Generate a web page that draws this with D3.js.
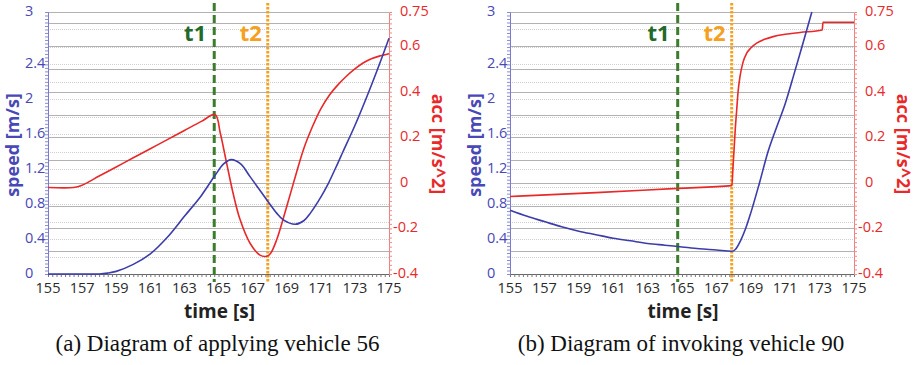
<!DOCTYPE html>
<html>
<head>
<meta charset="utf-8">
<script src="https://cdn.jsdelivr.net/npm/d3@7"></script>
<style>
  body { margin: 0; background: #fff; }
  svg { display: block; font-family: "Open Sans", "Noto Sans", sans-serif; }
</style>
</head>
<body>
<svg id="chart" width="915" height="365"></svg>
<script>
// ---- data ----
var timeTicks = [155, 157, 159, 161, 163, 165, 167, 169, 171, 173, 175];
var speedTicks = [0, 0.4, 0.8, 1.2, 1.6, 2, 2.4, 3];
var accTicks = [-0.4, -0.2, 0, 0.2, 0.4, 0.6, 0.75];

// (a) applying vehicle 56
var timeA = [155, 156, 157, 158, 158.5, 159, 160, 161, 162, 163, 164, 164.8, 165.3, 165.75, 166.3, 166.85, 167.9, 168.4, 168.8, 169.5, 170, 170.4, 171, 171.4, 172, 172.3, 173, 173.7, 174.3, 175];
var speedA = [0, 0, 0, 0, 0.01, 0.03, 0.11, 0.23, 0.42, 0.66, 0.9, 1.13, 1.26, 1.31, 1.26, 1.115, 0.83, 0.7, 0.62, 0.57, 0.61, 0.7, 0.88, 1.02, 1.27, 1.4, 1.7, 2.03, 2.33, 2.7];
var accTimeA = [155, 156.5, 157, 158, 159, 160, 161, 162, 163, 164, 164.8, 165.1, 165.44, 165.87, 166.26, 166.85, 167.43, 167.83, 168.05, 168.41, 168.9, 169.4, 170, 170.5, 171, 171.5, 172, 172.5, 173, 173.5, 174, 174.5, 175];
var accA = [-0.02, -0.02, -0.01, 0.03, 0.07, 0.11, 0.15, 0.19, 0.23, 0.27, 0.3, 0.22, 0.1, -0.05, -0.16, -0.265, -0.317, -0.322, -0.31, -0.25, -0.13, 0.0, 0.15, 0.245, 0.325, 0.385, 0.43, 0.468, 0.5, 0.527, 0.546, 0.558, 0.567];

// (b) invoking vehicle 90
var timeB = [155, 156, 157, 158, 159, 160, 161, 162, 163, 164, 165, 166, 167, 167.9, 168.1, 168.4, 168.7, 169, 169.5, 170, 170.5, 171, 171.5, 172, 172.55];
var speedB = [0.73, 0.66, 0.6, 0.54, 0.49, 0.45, 0.41, 0.38, 0.35, 0.33, 0.31, 0.29, 0.275, 0.26, 0.28, 0.38, 0.52, 0.7, 1.04, 1.4, 1.68, 1.95, 2.28, 2.62, 3.0];
var accTimeB = [155, 160, 164.75, 167.9, 167.95, 168.03, 168.1, 168.18, 168.26, 168.37, 168.55, 168.76, 169.0, 169.34, 169.8, 170.3, 171, 171.86, 173.15, 173.2, 175];
var accB = [-0.06, -0.043, -0.024, -0.012, 0.05, 0.15, 0.24, 0.32, 0.4, 0.466, 0.53, 0.569, 0.592, 0.613, 0.63, 0.642, 0.652, 0.66, 0.671, 0.705, 0.705];

var eventTimes = { t1: 164.75, t2: 167.89 };

var panels = [
  { left: 48, right: 389, time: timeA, speed: speedA, accTime: accTimeA, acc: accA,
    curve: d3.curveCatmullRom.alpha(0.5), caption: "(a) Diagram of applying vehicle 56" },
  { left: 510, right: 854, time: timeB, speed: speedB, accTime: accTimeB, acc: accB,
    curve: d3.curveMonotoneX, caption: "(b) Diagram of invoking vehicle 90" }
];

var plotTop = 12, plotBottom = 274;
var blue = "#3c3caa", blueText = "#4848b6", red = "#e9282a", green = "#3b7d2c", orange = "#f5a020";

var svg = d3.select("#chart");

panels.forEach(function(p) {
  var x = d3.scaleLinear().domain([155, 175]).range([p.left, p.right]);
  var yS = d3.scaleLinear().domain([0, 3]).range([plotBottom, plotTop]);
  var yA = d3.scaleLinear().domain([-0.4, 0.75]).range([plotBottom, plotTop]);
  var g = svg.append("g");

  // dotted speed grid
  g.selectAll(".sg").data(d3.range(0.2, 2.81, 0.2)).enter().append("line")
    .attr("x1", p.left).attr("x2", p.right)
    .attr("y1", function(d) { return Math.round(yS(d)) + 0.5; }).attr("y2", function(d) { return Math.round(yS(d)) + 0.5; })
    .attr("stroke", "#cfcfcf").attr("stroke-dasharray", "1,1");
  // solid acc grid
  g.selectAll(".ag").data(d3.range(-0.3, 0.71, 0.1)).enter().append("line")
    .attr("x1", p.left).attr("x2", p.right)
    .attr("y1", function(d) { return Math.round(yA(d)) + 0.5; }).attr("y2", function(d) { return Math.round(yA(d)) + 0.5; })
    .attr("stroke", "#b2b2b2").attr("stroke-width", 1);
  g.append("line").attr("x1", p.left).attr("x2", p.right)
    .attr("y1", plotTop + 0.5).attr("y2", plotTop + 0.5).attr("stroke", "#b2b2b2");

  // x axis with minor ticks
  g.append("g").attr("transform", "translate(0," + plotBottom + ")")
    .call(d3.axisBottom(x).tickValues(d3.range(155, 175.01, 0.25)).tickSize(3).tickFormat(""))
    .call(function(a) { a.select(".domain").attr("stroke", "#666"); a.selectAll("line").attr("stroke", "#777"); });
  g.selectAll(".xl").data(timeTicks).enter().append("text")
    .attr("x", function(d) { return x(d); }).attr("y", 289)
    .attr("text-anchor", "middle").attr("dominant-baseline", "middle")
    .attr("font-size", 14.5).attr("fill", "#2a2a2a").text(function(d) { return d; });
  g.append("text").attr("x", (p.left + p.right) / 2 + 1).attr("y", 313)
    .attr("text-anchor", "middle").attr("dominant-baseline", "middle")
    .attr("font-size", 19).attr("font-weight", "bold").attr("fill", "#222").text("time [s]");

  // left speed axis
  g.append("g").attr("transform", "translate(" + p.left + ",0)")
    .call(d3.axisLeft(yS).tickValues(d3.range(0, 3.001, 0.04)).tickSize(3).tickFormat(""))
    .call(function(a) { a.select(".domain").attr("stroke", "#7a7ad0"); a.selectAll("line").attr("stroke", "#8a8ad6"); });
  g.selectAll(".sl").data(speedTicks).enter().append("text")
    .attr("x", p.left - 23).attr("y", function(d) { return yS(d); })
    .attr("dominant-baseline", "middle").attr("font-size", 14.5).attr("fill", blueText)
    .text(function(d) { return d; });
  g.append("text").attr("transform", "translate(" + (p.left - 34) + "," + 145 + ") rotate(-90)")
    .attr("text-anchor", "middle").attr("dominant-baseline", "middle")
    .attr("font-size", 18).attr("font-weight", "bold").attr("fill", blueText).text("speed [m/s]");

  // right acc axis
  g.append("g").attr("transform", "translate(" + p.right + ",0)")
    .call(d3.axisRight(yA).tickValues(d3.range(-0.4, 0.751, 0.02)).tickSize(3).tickFormat(""))
    .call(function(a) { a.select(".domain").attr("stroke", "#f08080"); a.selectAll("line").attr("stroke", "#f08a8a"); });
  g.selectAll(".al").data(accTicks).enter().append("text")
    .attr("x", function(d) { return d < 0 ? p.right + 4 : p.right + 11; })
    .attr("y", function(d) { return yA(d); })
    .attr("dominant-baseline", "middle").attr("font-size", 14.5).attr("fill", red)
    .text(function(d) { return d < 0 ? "-" + Math.abs(d) : d; });
  g.append("text").attr("transform", "translate(" + (p.right + 48) + "," + 144 + ") rotate(90)")
    .attr("text-anchor", "middle").attr("dominant-baseline", "middle")
    .attr("font-size", 18).attr("font-weight", "bold").attr("fill", red).text("acc [m/s^2]");

  // event markers
  g.append("line").attr("x1", x(eventTimes.t1)).attr("x2", x(eventTimes.t1))
    .attr("y1", 3).attr("y2", 282).attr("stroke", green).attr("stroke-width", 3).attr("stroke-dasharray", "8,4");
  g.append("line").attr("x1", x(eventTimes.t2)).attr("x2", x(eventTimes.t2))
    .attr("y1", 3).attr("y2", 282).attr("stroke", orange).attr("stroke-width", 3).attr("stroke-dasharray", "2.5,1.5");
  g.append("text").attr("x", x(eventTimes.t1) - 8).attr("y", 35)
    .attr("text-anchor", "end").attr("dominant-baseline", "middle")
    .attr("font-size", 22).attr("font-weight", "bold").attr("fill", "#22692a").text("t1");
  g.append("text").attr("x", x(eventTimes.t2) - 6).attr("y", 35)
    .attr("text-anchor", "end").attr("dominant-baseline", "middle")
    .attr("font-size", 22).attr("font-weight", "bold").attr("fill", orange).text("t2");

  // series
  var accLine = d3.line().curve(p.curve)
    .x(function(d, i) { return x(p.accTime[i]); }).y(function(d) { return yA(d); });
  g.append("path").datum(p.acc).attr("d", accLine)
    .attr("fill", "none").attr("stroke", red).attr("stroke-width", 1.6);
  var speedLine = d3.line().curve(p.curve)
    .x(function(d, i) { return x(p.time[i]); }).y(function(d) { return yS(d); });
  g.append("path").datum(p.speed).attr("d", speedLine)
    .attr("fill", "none").attr("stroke", blue).attr("stroke-width", 1.6);

  // caption
  g.append("text").attr("x", (p.left + p.right) / 2 - 1).attr("y", 346)
    .attr("text-anchor", "middle").attr("dominant-baseline", "middle")
    .style("font-family", "'Liberation Serif', 'Times New Roman', serif")
    .attr("font-size", 23).attr("fill", "#111").text(p.caption);
});
</script>
</body>
</html>
